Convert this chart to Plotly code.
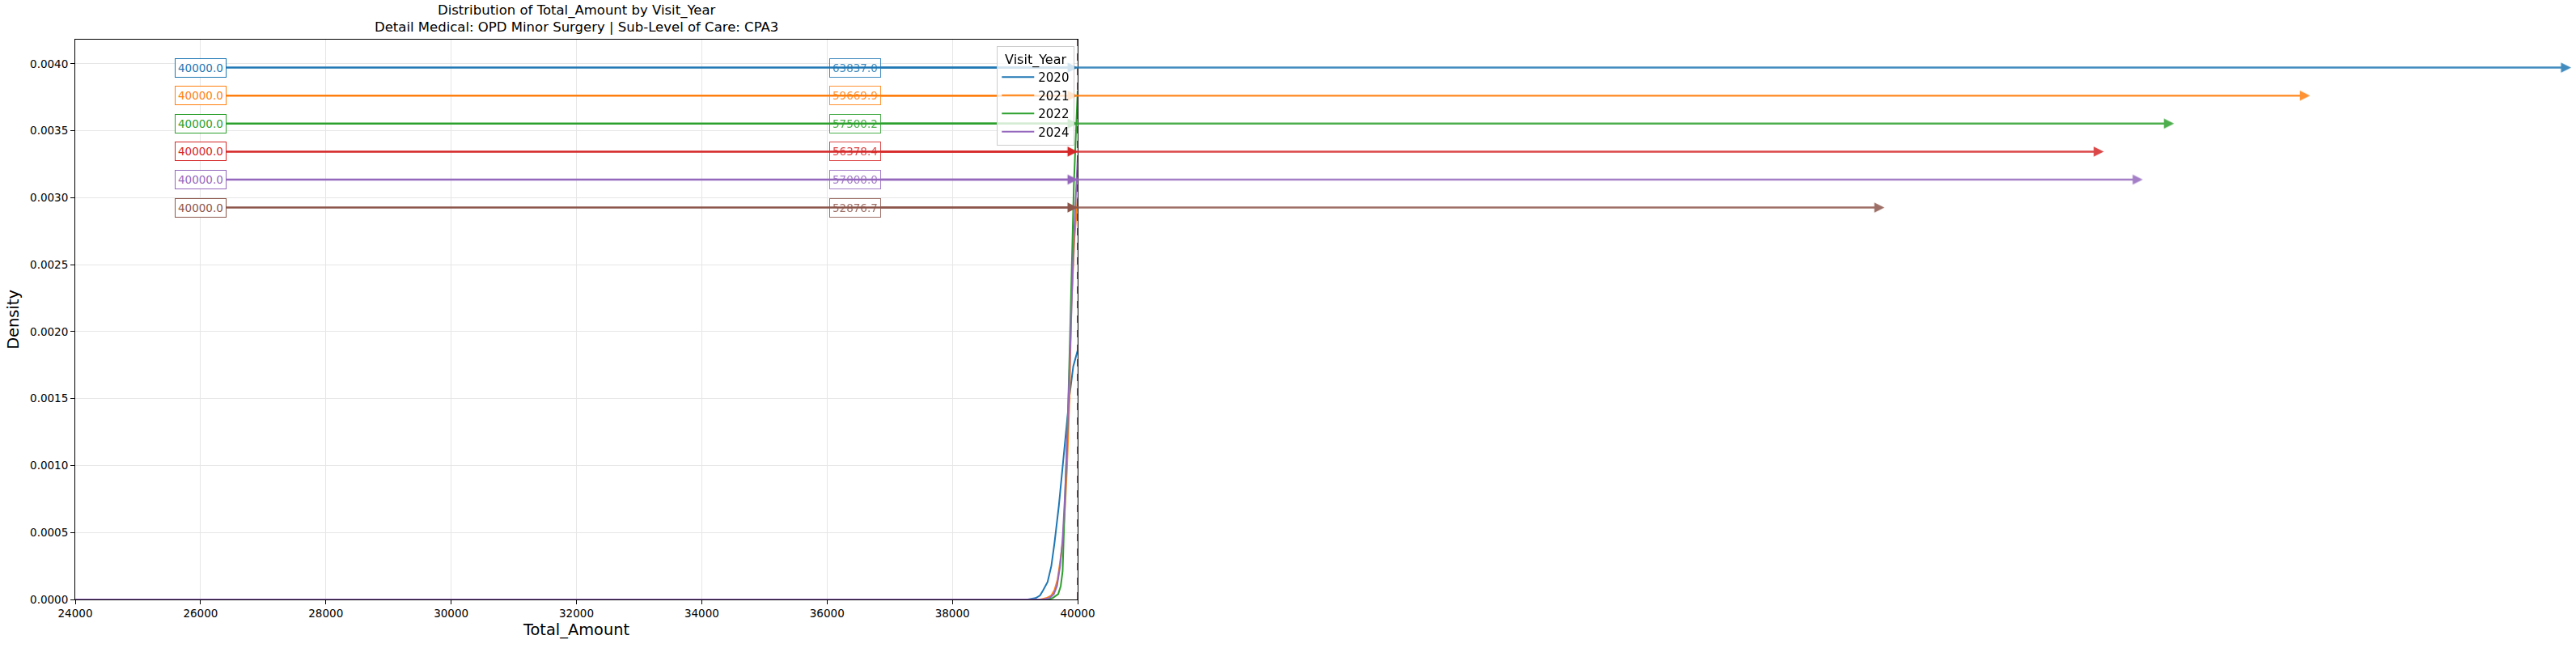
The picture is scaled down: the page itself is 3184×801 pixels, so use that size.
import plotly.graph_objects as go

# ---------------- data ----------------
years = ["2020", "2021", "2022", "2023", "2024", "2025"]
colors = ["#1f77b4", "#ff7f0e", "#2ca02c", "#d62728", "#9467bd", "#8c564b"]
medians = [40000.0, 40000.0, 40000.0, 40000.0, 40000.0, 40000.0]
means = [63837.0, 59669.9, 57500.2, 56378.4, 57000.0, 52876.7]

# KDE curves (only years with enough data have a curve)
kde_years = ["2020", "2021", "2022", "2024"]
kde_x = {
    "2020": [24000, 39200, 39330, 39400, 39450, 39520, 39580, 39630, 39700, 39760, 39820, 39870, 39930, 40000],
    "2021": [24000, 39400, 39500, 39580, 39630, 39680, 39720, 39760, 39800, 39830, 39870, 39900, 39950, 40000],
    "2022": [24000, 39500, 39600, 39690, 39730, 39760, 39800, 39845, 39890, 39940, 40000],
    "2024": [24000, 39450, 39550, 39620, 39670, 39720, 39760, 39800, 39840, 39880, 39940, 40000],
}
kde_y = {
    "2020": [0, 0, 0.00001, 0.00003, 0.00007, 0.00013, 0.00025, 0.00042, 0.0007, 0.00098, 0.00128, 0.00152, 0.00174, 0.00186],
    "2021": [0, 0, 0.00001, 0.00003, 0.00007, 0.00015, 0.00028, 0.00042, 0.0007, 0.00098, 0.0015, 0.0022, 0.0027, 0.0030],
    "2022": [0, 0, 0.00001, 0.00004, 0.0001, 0.00021, 0.00078, 0.00138, 0.00218, 0.0031, 0.0038],
    "2024": [0, 0, 0.00001, 0.00004, 0.0001, 0.00025, 0.00045, 0.0008, 0.0013, 0.0019, 0.0027, 0.0033],
}
x_ticks = [24000, 26000, 28000, 30000, 32000, 34000, 36000, 38000, 40000]
y_ticks = [0.0, 0.0005, 0.0010, 0.0015, 0.0020, 0.0025, 0.0030, 0.0035, 0.0040]
title_lines = ["Distribution of Total_Amount by Visit_Year",
               "Detail Medical: OPD Minor Surgery | Sub-Level of Care: CPA3"]

# ---------------- figure ----------------
peak = max(max(v) for v in kde_y.values())
ymax = peak * 1.1
x_range = [24000, 40000]
median_label_x = 26000
mean_label_x = 36450
font = "DejaVu Sans"

fig = go.Figure()
for yr in kde_years:
    c = colors[years.index(yr)]
    fig.add_trace(go.Scatter(x=kde_x[yr], y=kde_y[yr], mode="lines", name=yr,
                             line=dict(color=c, width=2)))

# median dashed lines
for i, yr in enumerate(years):
    fig.add_trace(go.Scatter(x=[medians[i], medians[i]], y=[0, ymax], mode="lines",
                             line=dict(color=colors[i], width=1.5, dash="dash"),
                             showlegend=False, hoverinfo="skip"))

annotations = []
fracs = [0.95, 0.90, 0.85, 0.80, 0.75, 0.70]
# mean labels first (drawn underneath)
for i, yr in enumerate(years):
    yv = ymax * fracs[i]
    annotations.append(dict(
        x=means[i], y=yv, xref="x", yref="y", ax=mean_label_x, ay=yv, axref="x", ayref="y",
        text=f"{means[i]:.1f}", showarrow=True, arrowhead=2, arrowsize=1, arrowwidth=2.5,
        arrowcolor=colors[i], font=dict(family=font, size=13.5, color=colors[i]),
        bgcolor="rgba(255,255,255,0.6)", bordercolor=colors[i], borderwidth=1, borderpad=3,
        opacity=0.85))
for i, yr in enumerate(years):
    yv = ymax * fracs[i]
    annotations.append(dict(
        x=medians[i], y=yv, xref="x", yref="y", ax=median_label_x, ay=yv, axref="x", ayref="y",
        text=f"{medians[i]:.1f}", showarrow=True, arrowhead=2, arrowsize=1, arrowwidth=2.5,
        arrowcolor=colors[i], font=dict(family=font, size=13.5, color=colors[i]),
        bgcolor="rgba(255,255,255,0.8)", bordercolor=colors[i], borderwidth=1, borderpad=3))

# title as annotation (two lines)
annotations.append(dict(
    text="<br>".join(title_lines), xref="paper", yref="paper", x=0.5, y=1.0,
    xanchor="center", yanchor="bottom", yshift=4, showarrow=False,
    font=dict(family=font, size=16.5, color="black")))

fig.update_layout(
    width=3184, height=801,
    paper_bgcolor="white", plot_bgcolor="white",
    margin=dict(l=93, r=1852, t=49, b=60),
    font=dict(family=font, color="black"),
    xaxis=dict(range=x_range, tickvals=x_ticks, ticktext=[str(v) for v in x_ticks],
               showline=True, linecolor="black", linewidth=1, mirror=True,
               ticks="outside", ticklen=5, tickcolor="black",
               showgrid=True, gridcolor="#e6e6e6", zeroline=False,
               tickfont=dict(size=13.5),
               title=dict(text="Total_Amount", font=dict(size=19.4), standoff=6)),
    yaxis=dict(range=[0, ymax], tickvals=y_ticks, tickformat=".4f",
               showline=True, linecolor="black", linewidth=1, mirror=True,
               ticks="outside", ticklen=5, tickcolor="black",
               showgrid=True, gridcolor="#e6e6e6", zeroline=False,
               tickfont=dict(size=13.5),
               title=dict(text="Density", font=dict(size=19.4), standoff=8)),
    legend=dict(x=0.997, y=0.988, xanchor="right", yanchor="top",
                bgcolor="rgba(255,255,255,0.8)", bordercolor="#cccccc", borderwidth=1,
                font=dict(size=15), itemwidth=40,
                title=dict(text="Visit_Year", side="top center", font=dict(size=16))),
    annotations=annotations,
)

post = (
    "document.body.style.margin='0';document.body.style.overflow='hidden';"
    "var lg=document.querySelector('g.legend');"
    "if(lg&&lg.parentNode){lg.parentNode.appendChild(lg);}"
)
fig.write_html("out.html", config={"displayModeBar": False}, post_script=post)
